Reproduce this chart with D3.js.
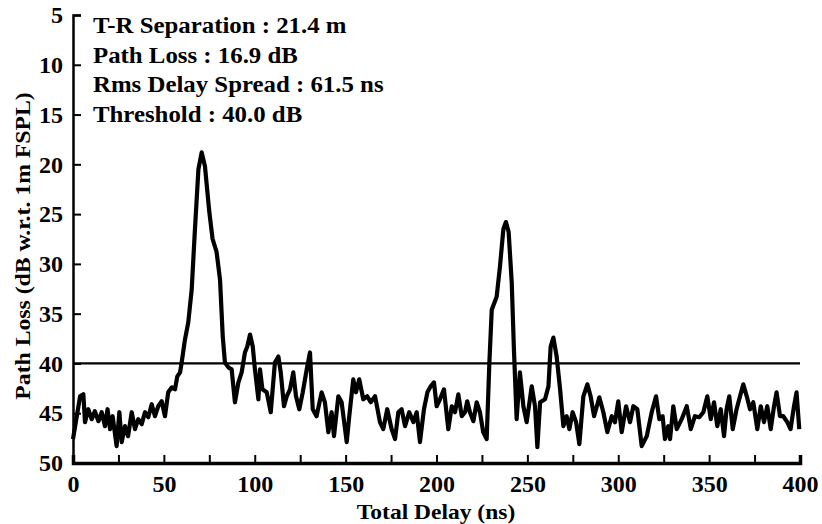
<!DOCTYPE html>
<html>
  <head>
    <meta charset="utf-8" />
    <title>Path Loss vs Total Delay</title>
    <script src="https://d3js.org/d3.v7.min.js"></script>
    <style>
      body { margin: 0; background: white; }
      text { font-family: "Liberation Serif", "DejaVu Serif", serif; font-weight: bold; fill: black; }
    </style>
  </head>
  <body>
    <svg width="822" height="524" id="chart"></svg>
    <script>
      // delay (ns) and path loss (dB)
      var delays = [0, 3.9, 5.7, 6.6, 8.4, 10.3, 12, 14, 15.8, 17.6, 19, 20.4, 21.8, 24, 25.5, 26.8, 28.6, 30.3,
        32.3, 34.1, 35.9, 37.8, 39.6, 41.4, 43.3, 45.1, 46.9, 48.8, 50.6, 52.4, 54.3, 56.1, 57.4, 58.9, 59.8,
        61.6, 63.4, 65.3, 67.1, 69, 70.8, 72.6, 75, 76.8, 79, 80.9, 82.4, 83.6, 85.5, 87.3, 89.1, 91, 92.8,
        94.6, 95.9, 97.4, 98.9, 100.1, 102, 102.9, 104.2, 106.6, 108.8, 111.1, 113, 114.3, 116.1, 117.6,
        119.4, 121.2, 122.7, 124.5, 126.4, 128.6, 130.4, 131.9, 134, 136.8, 138.6, 140.5, 142.3, 143.6, 146,
        147.8, 150.6, 152, 154.2, 155.7, 157.5, 159.7, 161.9, 163.8, 166.2, 168.9, 170.7, 172.9, 175.3,
        177.2, 179, 180.8, 182.7, 185, 187.3, 189.1, 190.9, 193.1, 195, 196.8, 198.6, 200.1, 201.9, 204.1,
        206.5, 208.4, 210.2, 212, 213.9, 215.7, 216.9, 218.4, 220.3, 222.1, 223.9, 225.7, 227.6, 229.1,
        230.4, 233.1, 234.9, 236.8, 238.2, 239.7, 241.4, 242.6, 244.1, 245.9, 247.8, 249.6, 252.4, 254.2,
        255.5, 257, 259.7, 261.6, 262.8, 264.3, 266.1, 268, 269.8, 271.6, 273.1, 274.9, 276.8, 278.6, 280.8,
        283, 284.8, 286.7, 289.6, 291.8, 294, 296.4, 298.2, 300, 301.9, 304.3, 306.5, 308.3, 310.5, 312.9,
        315.7, 318.4, 320.8, 322.6, 324.4, 325.7, 327.5, 328.5, 330.3, 332.2, 334.9, 337.7, 339.9, 342.2,
        344.6, 346.8, 349, 350.9, 352.7, 354.5, 356.4, 358.2, 359.6, 361.1, 363, 365.1, 367, 368.8, 370.7,
        372.5, 374.3, 376.5, 378.4, 380.2, 382, 383.9, 385.7, 387.1, 389, 390.8, 393, 394.8, 396.7, 398.1,
        399.6];
      var losses = [47.6, 43.3, 43.1, 45.9, 44.6, 45.6, 44.8, 45.8, 44.9, 46.3, 44.6, 46.6, 45.3, 48.3, 44.9,
        47.9, 46.3, 47.3, 44.9, 46.6, 45.6, 46.1, 44.9, 45.4, 44.1, 45.3, 44.3, 43.8, 45.3, 42.9, 42.4,
        42.6, 41.3, 40.9, 39.9, 37.6, 35.9, 32.6, 26.5, 20.5, 18.8, 20.2, 24.8, 27.5, 28.8, 31.6, 37.3,
        39.9, 40.4, 40.6, 43.9, 41.9, 40.9, 38.9, 38.3, 37.1, 38.3, 40.6, 43.6, 40.6, 42.6, 42.9, 44.9,
        39.9, 39.3, 40.9, 44.3, 43.3, 42.6, 40.9, 43.3, 44.6, 42.9, 40.6, 38.9, 44.6, 45.3, 42.9, 43.9,
        46.9, 44.9, 47.3, 43.3, 43.9, 47.9, 45.3, 41.6, 42.9, 41.6, 43.6, 43.3, 43.9, 43.3, 45.9, 46.6,
        44.6, 46.6, 47.6, 44.9, 44.6, 46.3, 44.9, 45.9, 44.9, 47.9, 44.6, 42.9, 42.3, 41.9, 44.3, 43.6,
        42.6, 46.6, 44.3, 44.9, 43.1, 45.3, 44.9, 43.8, 44.9, 45.8, 43.9, 44.9, 46.9, 47.6, 39.9, 34.6,
        33.3, 30.3, 26.5, 25.8, 26.8, 31.9, 38.6, 45.6, 40.9, 44.3, 45.9, 42.3, 44.3, 48.4, 43.9, 43.6,
        42.3, 38.3, 37.4, 39.3, 42.6, 46.3, 45.3, 46.6, 44.9, 45.9, 48.1, 43.3, 42.1, 43.3, 45.3, 43.4,
        44.9, 46.9, 45.3, 45.9, 43.8, 46.9, 44.3, 45.9, 44.3, 44.6, 48.3, 47.3, 44.9, 43.3, 45.6, 45.3,
        47.6, 46.3, 47.6, 44.3, 46.6, 45.6, 44.3, 46.6, 45.3, 45.4, 44.9, 43.3, 45.6, 43.9, 46.3, 44.6,
        47.3, 44.6, 43.3, 46.6, 44.6, 43.3, 42.1, 43.3, 44.6, 43.9, 46.6, 44.3, 45.9, 44.3, 46.6, 44.3,
        42.9, 45.3, 45.3, 45.9, 46.6, 44.3, 42.9, 46.6];
      var xTicks = d3.range(0, 401, 25);
      var xLabels = [0, 50, 100, 150, 200, 250, 300, 350, 400];
      var yTicks = [5, 10, 15, 20, 25, 30, 35, 40, 45, 50];
      var threshold = 40;
      var notes = ["T-R Separation : 21.4 m", "Path Loss : 16.9 dB", "Rms Delay Spread : 61.5 ns", "Threshold : 40.0 dB"];

      var svg = d3.select("#chart");
      var x = d3.scaleLinear().domain([0, 400]).range([73, 800]);
      var y = d3.scaleLinear().domain([5, 50]).range([15, 463]);

      // x axis: ticks point up, labels only every 50
      var xAxis = d3.axisBottom(x).tickValues(xTicks).tickSize(-8).tickPadding(12)
        .tickFormat(function(d){ return xLabels.indexOf(d) >= 0 ? d : ""; });
      var gx = svg.append("g").attr("transform", "translate(0," + y(50) + ")").call(xAxis);
      gx.select(".domain").attr("stroke-width", 3.5);
      gx.selectAll(".tick line").attr("stroke-width", 2);
      gx.selectAll(".tick text").attr("font-size", 24).attr("font-family", null);

      // y axis: ticks point right
      var yAxis = d3.axisLeft(y).tickValues(yTicks).tickSize(-8).tickPadding(10);
      var gy = svg.append("g").attr("transform", "translate(" + x(0) + ",0)").call(yAxis);
      gy.select(".domain").attr("stroke-width", 2.5);
      gy.selectAll(".tick line").attr("stroke-width", 2);
      gy.selectAll(".tick text").attr("font-size", 24).attr("font-family", null);

      // threshold line
      svg.append("line")
        .attr("x1", x(0)).attr("x2", x(400))
        .attr("y1", y(threshold)).attr("y2", y(threshold))
        .attr("stroke", "black").attr("stroke-width", 2.2);

      // trace
      var line = d3.line()
        .x(function(d, i){ return x(delays[i]); })
        .y(function(d){ return y(d); });
      svg.append("path").datum(losses)
        .attr("d", line)
        .attr("fill", "none").attr("stroke", "black")
        .attr("stroke-width", 4.2).attr("stroke-linejoin", "round");

      // annotations (the scanned type runs a little wide)
      svg.selectAll(".note").data(notes).enter().append("text")
        .attr("class", "note")
        .attr("transform", function(d, i){ return "translate(93," + (33 + i * 29.6) + ") scale(1.08,1)"; })
        .attr("font-size", 23)
        .text(function(d){ return d; });

      // axis titles
      svg.append("text")
        .attr("transform", "translate(436,519) scale(1.12,1)")
        .attr("text-anchor", "middle").attr("font-size", 21)
        .text("Total Delay (ns)");
      svg.append("text")
        .attr("transform", "translate(30,246) rotate(-90) scale(1.13,1)")
        .attr("text-anchor", "middle").attr("font-size", 21)
        .text("Path Loss (dB w.r.t. 1m FSPL)");
    </script>
  </body>
</html>
